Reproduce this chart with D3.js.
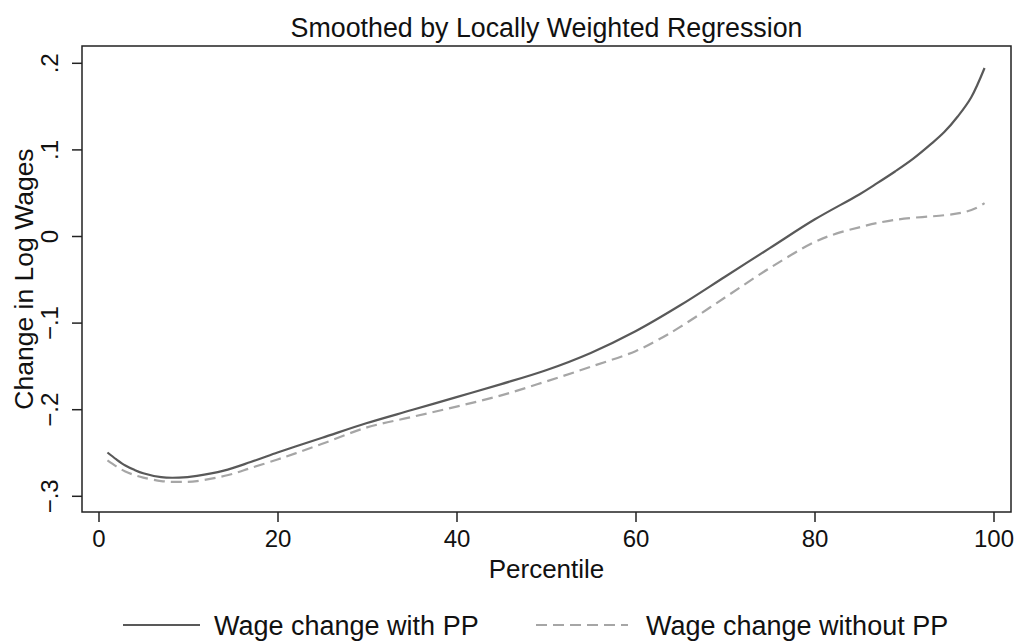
<!DOCTYPE html>
<html>
<head>
<meta charset="utf-8">
<script src="https://cdn.jsdelivr.net/npm/d3@7"></script>
<style>
  html, body { margin: 0; padding: 0; background: #fff; }
  svg { display: block; font-family: "Liberation Sans", Arial, Helvetica, sans-serif; }
</style>
</head>
<body>
<svg id="chart" width="1023" height="644"></svg>
<script>
// ---- data ----
const percentilesWith = [1, 2, 3, 4, 5, 7, 9, 11, 14, 17, 20, 22, 25, 30, 35, 40, 45, 50, 55, 60, 65, 70, 75, 80, 85, 87, 89, 91, 93, 94.5, 96, 97.5, 99];
const wageWithPP = [-0.250, -0.258, -0.265, -0.270, -0.274, -0.2785, -0.279, -0.277, -0.271, -0.261, -0.250, -0.243, -0.233, -0.216, -0.201, -0.186, -0.171, -0.155, -0.135, -0.110, -0.080, -0.047, -0.014, 0.019, 0.048, 0.061, 0.0745, 0.089, 0.106, 0.120, 0.138, 0.160, 0.194];

const percentilesWithout = [1, 2, 3, 4, 5, 7, 9, 11, 14.5, 17, 20, 22, 25, 30, 35, 40, 45, 50, 55, 60, 62.5, 65, 70, 75, 80, 82.5, 85, 87, 90, 94.5, 96.5, 98, 99];
const wageWithoutPP = [-0.259, -0.266, -0.272, -0.276, -0.279, -0.283, -0.284, -0.283, -0.276, -0.268, -0.258, -0.251, -0.240, -0.221, -0.209, -0.197, -0.184, -0.168, -0.151, -0.133, -0.120, -0.105, -0.071, -0.037, -0.007, 0.003, 0.010, 0.015, 0.020, 0.024, 0.027, 0.032, 0.038];

const xTicks = [0, 20, 40, 60, 80, 100];
const yTicks = [-0.3, -0.2, -0.1, 0, 0.1, 0.2];
const yTickLabels = ["\u2212.3", "\u2212.2", "\u2212.1", "0", ".1", ".2"];

const titleText = "Smoothed by Locally Weighted Regression";
const xTitle = "Percentile";
const yTitle = "Change in Log Wages";
const seriesNames = ["Wage change with PP", "Wage change without PP"];

// ---- layout ----
const svg = d3.select("#chart");
const frame = { left: 82, top: 46, right: 1011, bottom: 512 };

const x = d3.scaleLinear().domain([0, 100]).range([98.5, 993.5]);
const y = d3.scaleLinear().domain([0, 0.2]).range([236, 62.8]);

const solidColor = "#595959";
const dashColor = "#a6a6a6";
const axisColor = "#222";

// frame
svg.append("rect")
  .attr("x", frame.left).attr("y", frame.top)
  .attr("width", frame.right - frame.left).attr("height", frame.bottom - frame.top)
  .attr("fill", "none").attr("stroke", axisColor).attr("stroke-width", 1.5);

// x axis
const xAxis = d3.axisBottom(x).tickValues(xTicks).tickSize(10).tickPadding(8).tickFormat(d3.format("d"));
const gx = svg.append("g").attr("transform", `translate(0,${frame.bottom})`).call(xAxis);
gx.select(".domain").remove();
gx.selectAll(".tick line").attr("stroke", axisColor).attr("stroke-width", 1.5);
gx.selectAll(".tick text").attr("font-size", 24).attr("fill", "#111")
  .attr("font-family", "Liberation Sans, Arial, sans-serif");

// y axis (labels rotated)
const yAxis = d3.axisLeft(y).tickValues(yTicks).tickSize(10).tickFormat((d, i) => yTickLabels[i]);
const gy = svg.append("g").attr("transform", `translate(${frame.left},0)`).call(yAxis);
gy.select(".domain").remove();
gy.selectAll(".tick line").attr("stroke", axisColor).attr("stroke-width", 1.5);
gy.selectAll(".tick text")
  .attr("font-size", 24).attr("fill", "#111")
  .attr("font-family", "Liberation Sans, Arial, sans-serif")
  .attr("x", null).attr("dy", null)
  .attr("text-anchor", "middle")
  .attr("transform", "translate(-24,0) rotate(-90)");

// lines
const line = d3.line()
  .x(d => x(d[0])).y(d => y(d[1]))
  .curve(d3.curveCatmullRom.alpha(0.5));

const dataWithout = percentilesWithout.map((p, i) => [p, wageWithoutPP[i]]);
const dataWith = percentilesWith.map((p, i) => [p, wageWithPP[i]]);

svg.append("path").datum(dataWithout)
  .attr("d", line).attr("fill", "none")
  .attr("stroke", dashColor).attr("stroke-width", 2.2)
  .attr("stroke-dasharray", "11,6");

svg.append("path").datum(dataWith)
  .attr("d", line).attr("fill", "none")
  .attr("stroke", solidColor).attr("stroke-width", 2.2);

// titles
svg.append("text").attr("x", (frame.left + frame.right) / 2).attr("y", 37)
  .attr("text-anchor", "middle").attr("font-size", 26.8).attr("fill", "#111")
  .text(titleText);

svg.append("text").attr("x", (frame.left + frame.right) / 2).attr("y", 578)
  .attr("text-anchor", "middle").attr("font-size", 26).attr("fill", "#111")
  .text(xTitle);

svg.append("text")
  .attr("transform", `translate(33,${(frame.top + frame.bottom) / 2}) rotate(-90)`)
  .attr("text-anchor", "middle").attr("font-size", 26.5).attr("fill", "#111")
  .text(yTitle);

// legend
const legendY = 625;
const legendItems = [
  { name: seriesNames[0], x0: 123, len: 77, tx: 214, color: solidColor, dash: null },
  { name: seriesNames[1], x0: 536, len: 92, tx: 646, color: dashColor, dash: "11,6" }
];
const lg = svg.append("g");
legendItems.forEach(it => {
  lg.append("line").attr("x1", it.x0).attr("x2", it.x0 + it.len)
    .attr("y1", legendY).attr("y2", legendY)
    .attr("stroke", it.color).attr("stroke-width", 2.2)
    .attr("stroke-dasharray", it.dash);
  lg.append("text").attr("x", it.tx).attr("y", legendY + 9.5)
    .attr("font-size", 27).attr("fill", "#111").text(it.name);
});
</script>
</body>
</html>
